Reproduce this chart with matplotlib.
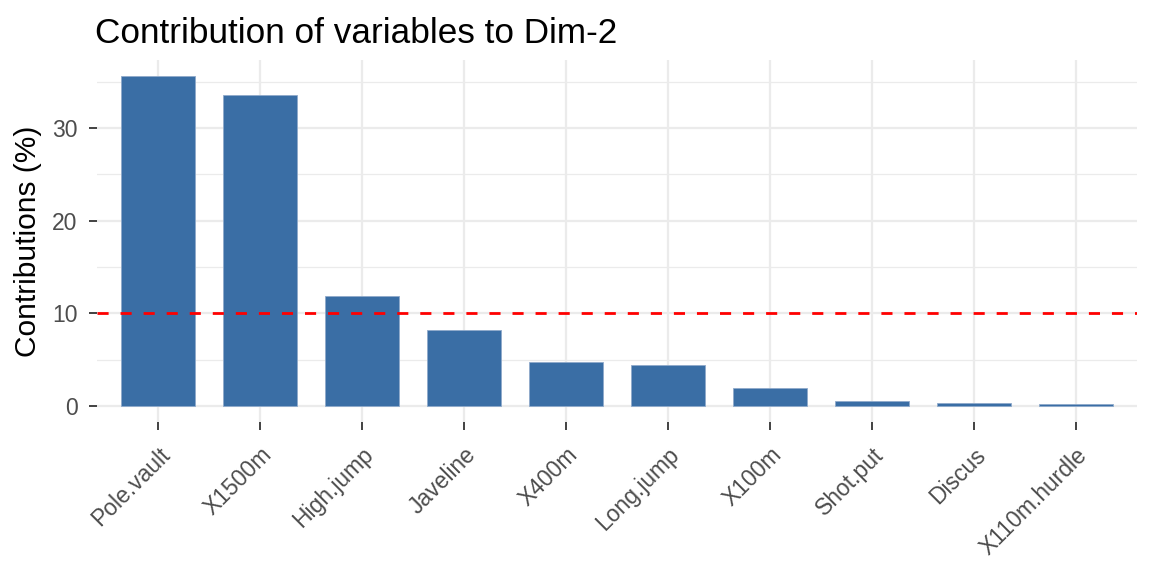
import matplotlib.pyplot as plt

variables = ['Pole.vault', 'X1500m', 'High.jump', 'Javeline', 'X400m',
             'Long.jump', 'X100m', 'Shot.put', 'Discus', 'X110m.hurdle']
contrib = [35.6, 33.6, 11.9, 8.25, 4.75, 4.42, 1.93, 0.55, 0.31, 0.22]
expected = 10  # 100 / number of variables

plt.rcParams['font.family'] = ['Liberation Sans', 'DejaVu Sans']

fig = plt.figure(figsize=(11.52, 5.76), dpi=100)
ax = fig.add_axes([0.0842, 0.2665, 0.9028, 0.6302])

x = range(len(variables))
ax.bar(x, contrib, width=0.72, color='#3A6EA5', edgecolor='#8FAACB',
       linewidth=0.6, zorder=3)
ax.axhline(expected, color='red', linestyle=(0, (4, 4.3)), linewidth=2.0, zorder=4)

top = max(contrib)
ax.set_xlim(-0.6, len(variables) - 0.4)
ax.set_ylim(-0.05 * top, top * 1.05)

ax.set_yticks([0, 10, 20, 30])
ax.set_yticks([5, 15, 25, 35], minor=True)
ax.set_xticks(list(x))
ax.set_xticklabels(variables, rotation=45, ha='right', va='top',
                   rotation_mode='anchor')

ax.grid(True, which='major', color='#EBEBEB', linewidth=1.6, zorder=0)
ax.grid(True, which='minor', axis='y', color='#EBEBEB', linewidth=0.9, zorder=0)
for s in ax.spines.values():
    s.set_visible(False)

ax.tick_params(axis='both', which='major', length=6, width=1.3, color='#333333',
               labelsize=16.5, labelcolor='#4D4D4D')
ax.tick_params(axis='y', which='major', pad=8)
ax.tick_params(axis='x', which='major', pad=9)
ax.tick_params(axis='y', which='minor', length=0)

ax.set_ylabel('Contributions (%)', fontsize=21.5, color='black', labelpad=7)
ax.set_title('Contribution of variables to Dim-2', fontsize=25.3, loc='left',
             x=-0.002, pad=12)

fig.savefig('out.png', dpi=100)
